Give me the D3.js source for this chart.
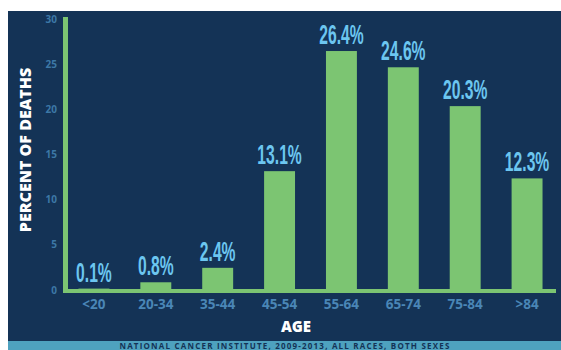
<!DOCTYPE html>
<html>
<head>
<meta charset="utf-8">
<script src="https://cdn.jsdelivr.net/npm/d3@7"></script>
<style>
  body { margin:0; background:#fff; }
  svg { display:block; }
</style>
</head>
<body>
<svg id="viz" width="561" height="350"></svg>
<script>
const ages = ['<20', '20-34', '35-44', '45-54', '55-64', '65-74', '75-84', '>84']
const deaths = [0.1, 0.8, 2.4, 13.1, 26.4, 24.6, 20.3, 12.3]
const yTicks = [0, 5, 10, 15, 20, 25, 30]

const NAVY = '#143356'
const GREEN = '#7cc572'
const LABEL = '#6cc6f0'
const TICK = '#3d78a6'

var svg = d3.select('svg#viz')

// background panel + source strip
svg.append('rect').attr('x', 8).attr('y', 11).attr('width', 553).attr('height', 331).attr('fill', NAVY)
svg.append('rect').attr('x', 8).attr('y', 341).attr('width', 553).attr('height', 9).attr('fill', '#4ea2bf')

const x = d3.scaleBand().domain(ages).range([63, 558]).paddingInner(0.5).paddingOuter(0.25)
const y = d3.scaleLinear().domain([0, 30]).range([289.5, 18.5])

const data = ages.map((a, i) => ({ age: a, value: deaths[i] }))

// bars
svg.append('g').selectAll('rect')
    .data(data)
    .join('rect')
    .attr('x', d => x(d.age))
    .attr('width', x.bandwidth())
    .attr('y', d => y(d.value))
    .attr('height', d => y(0) - y(d.value))
    .attr('fill', GREEN)

// axis lines
svg.append('rect').attr('x', 63).attr('y', 17).attr('width', 5).attr('height', 276).attr('fill', GREEN)
svg.append('rect').attr('x', 63).attr('y', 289).attr('width', 493).attr('height', 4).attr('fill', GREEN)

// y ticks
svg.append('g').selectAll('text')
    .data(yTicks)
    .join('text')
    .attr('x', 57)
    .attr('y', d => y(d) + 4)
    .attr('text-anchor', 'end')
    .attr('fill', TICK)
    .attr('font-family', 'Open Sans, sans-serif')
    .attr('font-weight', 700)
    .attr('font-size', 10)
    .text(d => d)

// x labels
svg.append('g').selectAll('text')
    .data(ages)
    .join('text')
    .attr('x', d => x(d) + x.bandwidth() / 2)
    .attr('y', 309)
    .attr('text-anchor', 'middle')
    .attr('fill', '#4a86b6')
    .attr('font-family', 'Open Sans, sans-serif')
    .attr('font-weight', 700)
    .attr('font-size', 13.5)
    .text(d => d)

// value labels (condensed)
svg.append('g').selectAll('text')
    .data(data)
    .join('text')
    .attr('transform', d => `translate(${x(d.age) + x.bandwidth() / 2}, ${y(d.value) - 7}) scale(0.58,1)`)
    .attr('text-anchor', 'middle')
    .attr('fill', LABEL)
    .attr('font-family', 'Liberation Sans Narrow, Liberation Sans, sans-serif')
    .attr('font-weight', 700)
    .attr('font-size', 27)
    .text(d => d.value.toFixed(1) + '%')

// axis titles
svg.append('text')
    .attr('transform', 'translate(31,150) rotate(-90)')
    .attr('text-anchor', 'middle')
    .attr('fill', '#fff')
    .attr('font-family', 'Open Sans, sans-serif')
    .attr('font-weight', 800)
    .attr('font-size', 16)
    .text('PERCENT OF DEATHS')

svg.append('text')
    .attr('x', 296)
    .attr('y', 332)
    .attr('text-anchor', 'middle')
    .attr('fill', '#fff')
    .attr('font-family', 'Open Sans, sans-serif')
    .attr('font-weight', 800)
    .attr('font-size', 15)
    .text('AGE')

svg.append('text')
    .attr('x', 285)
    .attr('y', 349)
    .attr('text-anchor', 'middle')
    .attr('fill', NAVY)
    .attr('font-family', 'Open Sans, sans-serif')
    .attr('font-weight', 700)
    .attr('font-size', 8)
    .attr('letter-spacing', 1.2)
    .text('NATIONAL CANCER INSTITUTE, 2009-2013, ALL RACES, BOTH SEXES')
</script>
</body>
</html>
